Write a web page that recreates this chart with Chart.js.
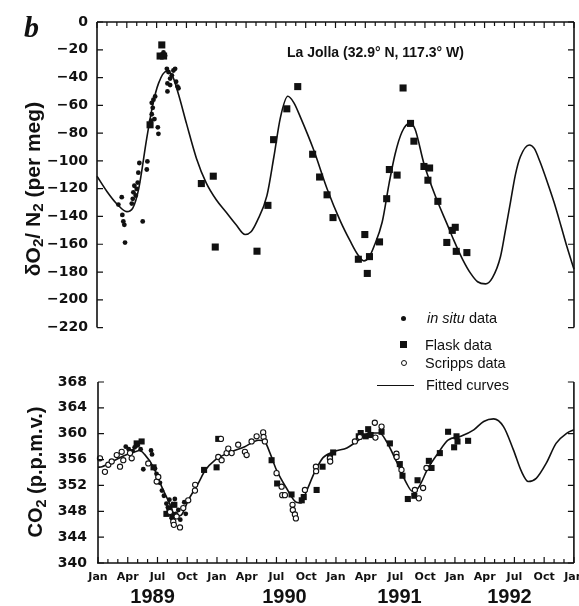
<!DOCTYPE html>
<html>
<head>
<meta charset="utf-8">
<script src="https://cdn.jsdelivr.net/npm/chart.js@4.4.1/dist/chart.umd.min.js"></script>
<style>
  html, body { margin: 0; padding: 0; background: #fff; }
  #page { position: relative; width: 579px; height: 606px; overflow: hidden; font-family: "Liberation Sans", Arial, sans-serif; color: #111; }
  canvas { position: absolute; left: 0; }
  #topChart { top: 0; }
  #botChart { top: 345px; }
  .txt { position: absolute; white-space: nowrap; line-height: 1; }
  .ytitle { font-weight: bold; transform: translate(-50%, -50%) rotate(-90deg); }
  sub { font-size: 0.72em; vertical-align: -0.25em; line-height: 0; }
  #panel { left: 24px; top: 10px; font: italic bold 30px "Liberation Serif", serif; }
  #site { left: 287px; top: 45px; font-weight: bold; font-size: 14px; }
  #o2title { left: 32px; top: 189px; font-size: 21px; }
  #co2title { left: 35px; top: 472px; font-size: 20px; }
  .leg { position: absolute; font-size: 14.5px; line-height: 18px; white-space: nowrap; }
  .sym { position: absolute; box-sizing: border-box; }
</style>
</head>
<body>
<div id="page">
  <canvas id="topChart" width="579" height="345"></canvas>
  <canvas id="botChart" width="579" height="261"></canvas>

  <div class="txt" id="panel">b</div>
  <div class="txt" id="site">La Jolla (32.9° N, 117.3° W)</div>
  <div class="txt ytitle" id="o2title">δO<sub>2</sub>/ N<sub>2</sub> (per meg)</div>
  <div class="txt ytitle" id="co2title">CO<sub>2</sub> (p.p.m.v.)</div>

  <!-- legend -->
  <div class="sym" style="left:401px;top:316px;width:5px;height:5px;border-radius:50%;background:#111;"></div>
  <div class="leg" style="left:427px;top:309px;"><i>in situ</i> data</div>
  <div class="sym" style="left:400px;top:341px;width:7px;height:7px;background:#111;"></div>
  <div class="leg" style="left:425px;top:336px;">Flask data</div>
  <div class="sym" style="left:401px;top:360px;width:6px;height:6px;border-radius:50%;border:1.2px solid #111;background:#fff;"></div>
  <div class="leg" style="left:425px;top:354px;">Scripps data</div>
  <div class="sym" style="left:377px;top:385px;width:37px;height:0;border-top:1.5px solid #111;"></div>
  <div class="leg" style="left:426px;top:376px;">Fitted curves</div>
</div>

<script>
// months counted from Jan 1989 (0) to Jan 1993 (48)
const monthLabels = ['Jan', 'Apr', 'Jul', 'Oct'];
const yearLabels = ['1989', '1990', '1991', '1992'];
const yearLabelMonth = [5.5, 18.8, 30.4, 41.5];

// delta O2/N2 (per meg)
const o2InsituMonth = [2.15, 2.49, 2.55, 2.65, 2.75, 2.82, 3.5, 3.6, 3.66, 3.76, 3.9, 4.0, 4.1, 4.16, 4.26, 4.6, 5.01, 5.07, 5.34, 5.44, 5.51, 5.51, 5.61, 5.68, 5.85, 5.78, 6.12, 6.18, 6.69, 6.85, 7.03, 7.19, 7.09, 7.09, 7.36, 7.36, 7.53, 7.69, 7.86, 7.96, 8.1, 8.2];
const o2InsituValue = [-131.4, -126.1, -138.9, -143.6, -146, -158.8, -130.7, -127.3, -122.6, -117.9, -124.9, -120.2, -115.6, -108.5, -101.5, -143.6, -106.2, -100.4, -74.6, -71.1, -66.4, -58.2, -61.8, -55.9, -53.6, -69.9, -75.8, -80.5, -21.9, -24.3, -33.7, -36, -44.2, -50, -40.7, -45.4, -38.4, -34.9, -33.7, -43, -46.5, -47.7];

const o2FlaskMonth = [5.34, 6.35, 6.52, 6.7, 10.5, 11.7, 11.9, 16.1, 17.2, 17.77, 19.1, 20.2, 21.7, 22.4, 23.15, 23.75, 26.3, 26.95, 27.2, 27.42, 28.43, 29.15, 29.42, 30.2, 30.8, 31.55, 31.89, 32.9, 33.47, 33.3, 34.3, 35.2, 35.75, 36.05, 36.15, 37.22];
const o2FlaskValue = [-74, -24.5, -16.5, -24.5, -116.3, -111, -162, -165, -132, -84.7, -62.5, -46.5, -95.2, -111.6, -124.4, -140.8, -170.8, -153, -181, -168.9, -158.3, -127.2, -106.2, -110.2, -47.5, -73, -85.8, -104, -105.1, -113.9, -129.1, -158.7, -150, -147.8, -165.1, -166];

const o2FitMonth = [0, 1, 2, 3, 3.6, 4.2, 5.0, 5.6, 6.2, 7.0, 7.6, 8.2, 9.0, 10.0, 11.0, 12.0, 13.0, 14.0, 14.9, 15.5, 16.1, 17.1, 17.8, 18.45, 19.2, 19.8, 20.5, 21.8, 23.15, 24.5, 25.5, 26.2, 26.85, 27.4, 27.85, 28.7, 29.4, 30.0, 30.7, 31.45, 32.0, 32.9, 34.2, 35.2, 35.9, 36.8, 37.6, 38.3, 39.1, 39.8, 40.6, 41.1, 41.6, 42.1, 42.6, 43.5, 44.0, 44.6, 45.3, 46.0, 46.7, 47.3, 48.0];
const o2FitValue = [-111, -122, -131, -136.5, -134, -120, -84, -60, -44, -35.5, -39, -52, -73, -98, -116, -128, -137, -146, -153, -151, -143.5, -125, -97, -69, -53.5, -58, -69, -92, -120, -143.5, -158, -167, -172, -169, -162, -144, -116, -95, -79, -73, -77, -102, -128, -145, -157, -171, -181, -187, -188.5, -184, -169, -150, -130, -110, -97, -88.5, -91, -101, -115, -130, -147, -162, -178];

// CO2 (p.p.m.v.)
const co2InsituMonth = [2.8, 3.1, 3.5, 3.7, 4.0, 4.3, 4.57, 5.35, 5.45, 5.75, 5.9, 6.05, 6.25, 6.45, 6.65, 6.9, 7.05, 7.2, 7.35, 7.45, 7.55, 7.75, 7.85, 8.1, 8.3, 8.7, 8.85];
const co2InsituValue = [358.0, 357.6, 357.3, 357.9, 358.2, 357.6, 354.5, 357.4, 356.8, 354.6, 353.8, 353.2, 352.4, 351.2, 350.4, 349.2, 348.6, 349.8, 347.6, 346.9, 349.1, 349.9, 347.6, 348.2, 346.7, 349.4, 347.6];

const co2FlaskMonth = [3.9, 4.4, 5.6, 6.9, 7.2, 7.5, 7.7, 10.7, 11.96, 12.13, 17.51, 18.07, 19.52, 20.55, 20.75, 22.05, 22.65, 23.4, 23.72, 26.3, 26.5, 27.0, 27.25, 27.5, 28.6, 29.44, 30.44, 30.71, 31.25, 31.9, 32.23, 33.37, 33.64, 34.48, 35.31, 35.92, 36.16, 36.26, 37.33];
const co2FlaskValue = [358.5, 358.8, 354.8, 347.6, 348.4, 347.3, 349.0, 354.4, 354.8, 359.2, 355.9, 352.3, 350.6, 349.7, 350.2, 351.3, 354.9, 356.4, 357.1, 359.6, 360.1, 359.6, 360.7, 359.8, 360.3, 358.5, 355.3, 353.5, 349.9, 350.4, 352.8, 355.8, 354.7, 357.0, 360.3, 357.9, 359.6, 358.8, 358.9];

const co2ScrippsMonth = [0.2, 0.7, 1.04, 1.38, 1.89, 2.22, 2.39, 2.55, 3.23, 3.4, 5.07, 5.92, 6.08, 7.26, 7.59, 7.65, 7.93, 8.27, 8.6, 9.1, 9.78, 9.8, 12.4, 12.13, 12.47, 12.97, 13.14, 13.48, 14.14, 14.82, 14.99, 15.49, 16.0, 16.66, 16.7, 16.83, 18.01, 18.52, 18.58, 18.85, 19.62, 19.65, 19.86, 19.96, 20.87, 21.98, 22.0, 23.39, 23.42, 25.91, 26.41, 27.92, 27.98, 28.6, 30.1, 30.12, 30.61, 31.96, 32.36, 32.79, 33.13];
const co2ScrippsValue = [356.2, 354.1, 355.2, 355.7, 356.7, 354.9, 357.2, 355.9, 357.0, 356.2, 355.4, 352.6, 353.3, 347.9, 346.4, 345.9, 347.2, 345.5, 348.5, 349.7, 351.2, 352.1, 359.2, 356.4, 355.9, 357.0, 357.7, 357.0, 358.3, 357.2, 356.7, 358.8, 359.6, 360.2, 359.5, 358.8, 353.9, 351.8, 350.5, 350.5, 349.0, 348.2, 347.5, 346.9, 351.3, 354.9, 354.2, 356.2, 355.7, 358.8, 359.5, 361.7, 359.4, 361.1, 356.9, 356.4, 354.4, 351.3, 350.0, 351.6, 354.7];

const co2FitMonth = [0, 0.4, 1.7, 2.8, 3.7, 4.2, 4.7, 5.6, 6.4, 7.1, 7.9, 8.4, 9.1, 10.1, 10.8, 11.8, 13.1, 14.8, 16.2, 16.8, 17.35, 18.0, 19.0, 20.0, 20.5, 21.0, 21.9, 22.7, 23.9, 25.1, 26.1, 27.4, 28.4, 29.1, 30.1, 31.1, 31.7, 32.3, 33.3, 34.3, 35.3, 36.6, 37.9, 38.9, 39.9, 40.9, 41.9, 42.7, 43.4, 44.2, 45.2, 46.2, 47.3, 48];
const co2FitValue = [354.8, 354.9, 355.9, 356.7, 357.2, 357.4, 356.8, 354.8, 351.9, 349.6, 347.2, 347.4, 349.7, 352.3, 354.3, 355.9, 357.0, 358.0, 359.0, 358.8, 357.0, 354.4, 351.6, 349.4, 349.3, 351.0, 354.2, 356.3, 357.3, 357.8, 358.8, 360.1, 360.1, 358.8, 355.7, 352.4, 351.1, 351.6, 354.7, 357.0, 359.0, 359.6, 360.6, 361.9, 362.3, 361.1, 357.5, 354.2, 352.6, 353.1, 355.4, 358.5, 360.1, 360.6];

const INK = '#111';
const tickFont = { family: '"DejaVu Sans", sans-serif', size: 14, weight: 'bold' };

function pts(xs, ys) {
    return xs.map((x, i) => ({ x: x, y: ys[i] }));
}

// axis lines + inward tick marks, as in the printed figure
const framePlugin = {
    id: 'frame',
    afterDatasetsDraw(chart, args, opts) {
        const { ctx, chartArea: a, scales } = chart;
        const x = scales.x, y = scales.y;
        ctx.save();
        ctx.strokeStyle = INK;
        ctx.lineWidth = 1.6;
        ctx.beginPath();
        opts.sides.forEach(s => {
            if (s === 'top') { ctx.moveTo(a.left, a.top); ctx.lineTo(a.right, a.top); }
            if (s === 'bottom') { ctx.moveTo(a.left - 1, a.bottom); ctx.lineTo(a.right, a.bottom); }
            if (s === 'left') { ctx.moveTo(a.left, a.top); ctx.lineTo(a.left, a.bottom); }
            if (s === 'right') { ctx.moveTo(a.right, a.top); ctx.lineTo(a.right, a.bottom); }
        });
        ctx.stroke();

        ctx.lineWidth = 1.2;
        ctx.beginPath();
        const edge = opts.monthEdge === 'top' ? a.top : a.bottom;
        const dir = opts.monthEdge === 'top' ? 1 : -1;
        for (let m = x.min; m <= x.max; m++) {
            const px = x.getPixelForValue(m);
            const len = m % 3 === 0 ? 6 : 4;
            ctx.moveTo(px, edge);
            ctx.lineTo(px, edge + dir * len);
        }
        for (let v = y.min; v <= y.max; v += opts.yStep) {
            const py = y.getPixelForValue(v);
            ctx.moveTo(a.left, py); ctx.lineTo(a.left + 6, py);
            ctx.moveTo(a.right, py); ctx.lineTo(a.right - 6, py);
        }
        ctx.stroke();
        ctx.restore();
    }
};

const yearPlugin = {
    id: 'years',
    afterDraw(chart) {
        const { ctx, chartArea: a, scales: { x } } = chart;
        ctx.save();
        ctx.font = 'bold 20px "Liberation Sans", Arial, sans-serif';
        ctx.fillStyle = INK;
        ctx.textAlign = 'center';
        ctx.textBaseline = 'middle';
        yearLabels.forEach((yr, i) => {
            ctx.fillText(yr, x.getPixelForValue(yearLabelMonth[i]), a.bottom + 34);
        });
        ctx.restore();
    }
};

function curve(data) {
    return { type: 'line', data: data, borderColor: INK, borderWidth: 1.6, pointRadius: 0, fill: false, cubicInterpolationMode: 'monotone', clip: false };
}
function flask(data, r) {
    return { data: data, pointStyle: 'rect', pointRadius: r, backgroundColor: INK, borderColor: INK, borderWidth: 0, clip: false };
}
function insitu(data) {
    return { data: data, pointStyle: 'circle', pointRadius: 2.4, backgroundColor: INK, borderWidth: 0, clip: false };
}
function scripps(data) {
    return { data: data, pointStyle: 'circle', pointRadius: 2.6, backgroundColor: '#fff', borderColor: INK, borderWidth: 1.1, clip: false };
}

const baseOptions = {
    responsive: false,
    animation: false,
    events: [],
    plugins: { legend: { display: false }, tooltip: { enabled: false } }
};

// top panel: O2/N2
new Chart(document.getElementById('topChart'), {
    type: 'scatter',
    data: {
        datasets: [
            insitu(pts(o2InsituMonth, o2InsituValue)),
            flask(pts(o2FlaskMonth, o2FlaskValue), 5),
            curve(pts(o2FitMonth, o2FitValue))
        ]
    },
    options: {
        ...baseOptions,
        layout: { padding: { top: 22, right: 5, left: 0, bottom: 8 } },
        plugins: { ...baseOptions.plugins, frame: { sides: ['top', 'left', 'right'], monthEdge: 'top', yStep: 20 } },
        scales: {
            x: { type: 'linear', min: 0, max: 48, display: false },
            y: {
                min: -220, max: 0,
                grid: { display: false, drawTicks: false },
                border: { display: false },
                ticks: {
                    stepSize: 20, padding: 9, color: INK, font: tickFont,
                    callback: v => v < 0 ? '\u2212' + Math.abs(v) : String(v)
                },
                afterFit: s => { s.width = 97; }
            }
        }
    },
    plugins: [framePlugin]
});

// bottom panel: CO2
new Chart(document.getElementById('botChart'), {
    type: 'scatter',
    data: {
        datasets: [
            scripps(pts(co2ScrippsMonth, co2ScrippsValue)),
            insitu(pts(co2InsituMonth, co2InsituValue)),
            flask(pts(co2FlaskMonth, co2FlaskValue), 4.3),
            curve(pts(co2FitMonth, co2FitValue))
        ]
    },
    options: {
        ...baseOptions,
        layout: { padding: { top: 37, right: 5, left: 0, bottom: 0 } },
        plugins: { ...baseOptions.plugins, frame: { sides: ['left', 'bottom', 'right'], monthEdge: 'bottom', yStep: 4 } },
        scales: {
            x: {
                type: 'linear', min: 0, max: 48,
                grid: { display: false, drawTicks: false },
                border: { display: false },
                ticks: {
                    stepSize: 3, autoSkip: false, maxRotation: 0, minRotation: 0, padding: 8,
                    color: INK, font: { family: '"DejaVu Sans", sans-serif', size: 11, weight: 'bold' },
                    callback: v => monthLabels[(v / 3) % 4]
                },
                afterFit: s => { s.height = 43; s.paddingLeft = 0; s.paddingRight = 0; }
            },
            y: {
                min: 340, max: 368,
                grid: { display: false, drawTicks: false },
                border: { display: false },
                ticks: { stepSize: 4, padding: 11, color: INK, font: tickFont },
                afterFit: s => { s.width = 98; }
            }
        }
    },
    plugins: [framePlugin, yearPlugin]
});
</script>
</body>
</html>
